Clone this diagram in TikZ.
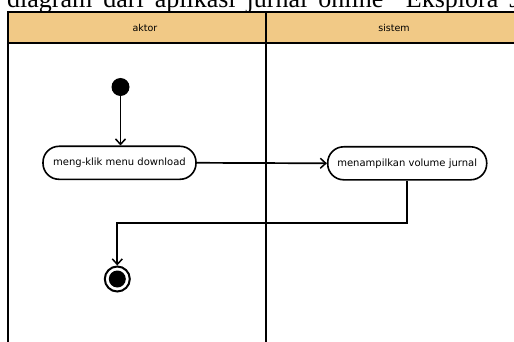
\documentclass[tikz,border=0pt]{standalone}
\usepackage{fontspec}
\setmainfont{DejaVu Sans}
\newfontfamily\capfont{Liberation Serif}
\usetikzlibrary{arrows.meta}
\definecolor{lanehead}{HTML}{F1C986}
\tikzset{
  lanehead/.style={fill=lanehead},
  laneline/.style={draw=black, line width=2pt},
  activity/.style={draw=black, line width=1.6pt, rounded corners=16pt, fill=white,
     minimum height=33pt, inner sep=0pt, font=\fontsize{10}{12}\selectfont},
  flow/.style={draw=black, line width=1.7pt, -{Straight Barb[length=5.5pt,width=10pt,line width=1.5pt]}},
  headtext/.style={font=\fontsize{9.5}{11}\selectfont},
}
\begin{document}
\begin{tikzpicture}[x=1pt,y=-1pt]
\useasboundingbox (0,0) rectangle (514,342);
\clip (0,0) rectangle (514,342);
% caption (cut off at top)
\node[anchor=base west, inner sep=0pt, font=\capfont\fontsize{26}{28}\selectfont] (cap) at (7,8)
  {\spaceskip=11pt diagram dari aplikasi jurnal online “Eksplora Jurnal};
% swimlanes
\fill[lanehead] (8,12) rectangle (530,43.5);
\draw[laneline] (8,350) -- (8,12) -- (530,12);
\draw[laneline] (8,43.5) -- (530,43.5);
\draw[laneline] (265.5,12) -- (265.5,350);
\node[headtext] (h1) at (145,28) {aktor};
\node[headtext] (h2) at (394,28) {sistem};
% nodes
\node[circle, fill=black, minimum size=18pt, inner sep=0pt] (start) at (120.5,87) {};
\node[activity, minimum width=153pt] (a1) at (119.5,162.8) {meng-klik menu download};
\node[activity, minimum width=159pt] (a2) at (407.2,163.3) {menampilkan volume jurnal};
\node[circle, draw=black, line width=2pt, fill=white, minimum size=25pt, inner sep=0pt] (end) at (117.3,279) {};
\fill[black] (end.center) circle (8.5pt);
% flows
\draw[flow] (start) -- (start |- a1.north);
\draw[flow] (a1.east) -- (a2.west);
\coordinate (c1) at (a2.south |- 0,223);
\coordinate (c2) at (end.north |- 0,223);
\draw[flow] (a2.south) -- (c1) -- (c2) -- (end.north);
\end{tikzpicture}
\end{document}
